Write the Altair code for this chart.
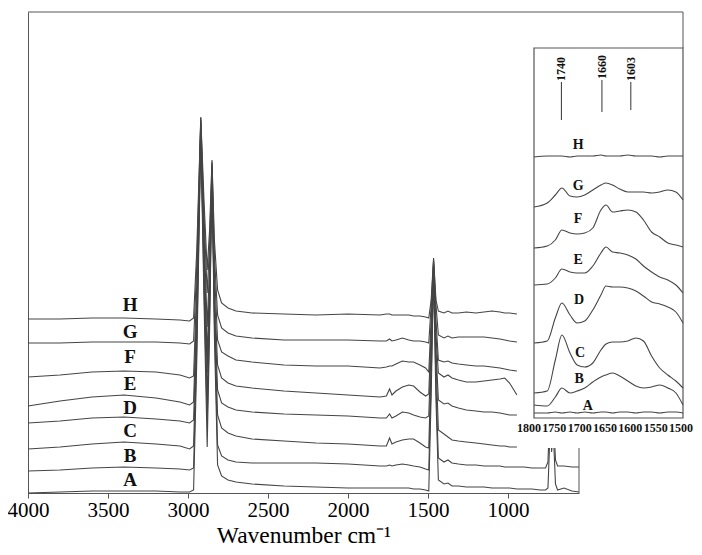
import altair as alt
import pandas as pd

# ---------------- main spectra ----------------
samples = ["A", "B", "C", "D", "E", "F", "G", "H"]

wn_main = [4000, 3800, 3600, 3400, 3200, 3050, 2990, 2965, 2945, 2920,
           2900, 2880, 2865, 2850, 2835, 2815, 2790, 2750, 2700, 2600,
           2400, 2200, 2000, 1800, 1760, 1740, 1725, 1700, 1660, 1620,
           1590, 1550, 1515, 1495, 1480, 1465, 1450, 1435, 1400, 1375,
           1350, 1310, 1260, 1200, 1150, 1100, 1050, 1020, 990, 944,
           900, 850, 800, 765, 750, 740, 733, 727, 720, 712,
           703, 690, 650, 600, 556]

abs_H = [1.74, 1.74, 1.75, 1.75, 1.74, 1.73, 1.72, 1.75, 2.43, 3.76,
         2.93, 2.23, 2.63, 3.33, 2.53, 2.03, 1.90, 1.85, 1.82, 1.80,
         1.79, 1.78, 1.79, 1.78, 1.79, 1.79, 1.78, 1.78, 1.78, 1.78,
         1.77, 1.77, 1.76, 1.75, 1.93, 2.35, 1.93, 1.82, 1.80, 1.82,
         1.80, 1.80, 1.81, 1.80, 1.81, 1.82, 1.81, 1.80, 1.80, 1.79]
abs_G = [1.50, 1.50, 1.51, 1.51, 1.51, 1.50, 1.49, 1.52, 2.28, 3.75,
         2.78, 2.00, 2.48, 3.31, 2.38, 1.78, 1.65, 1.60, 1.57, 1.55,
         1.53, 1.53, 1.53, 1.52, 1.52, 1.54, 1.52, 1.53, 1.55, 1.53,
         1.52, 1.52, 1.51, 1.50, 1.88, 2.33, 1.88, 1.58, 1.55, 1.57,
         1.55, 1.56, 1.56, 1.56, 1.56, 1.55, 1.54, 1.53, 1.52, 1.51]
abs_F = [1.16, 1.18, 1.21, 1.22, 1.21, 1.18, 1.15, 1.17, 2.08, 3.73,
         2.63, 1.66, 2.28, 3.29, 2.23, 1.53, 1.41, 1.37, 1.33, 1.31,
         1.28, 1.27, 1.27, 1.25, 1.26, 1.27, 1.27, 1.29, 1.32, 1.31,
         1.31, 1.28, 1.25, 1.21, 1.73, 2.31, 1.73, 1.33, 1.31, 1.32,
         1.30, 1.29, 1.28, 1.27, 1.27, 1.26, 1.25, 1.24, 1.23, 1.22]
abs_E = [0.87, 0.92, 0.96, 0.98, 0.95, 0.91, 0.88, 0.91, 1.93, 3.71,
         2.48, 1.37, 2.13, 3.27, 2.03, 1.28, 1.15, 1.10, 1.07, 1.05,
         1.02, 1.00, 0.98, 0.96, 0.97, 1.04, 0.98, 1.02, 1.06, 1.08,
         1.07, 1.01, 0.97, 0.99, 1.63, 2.29, 1.58, 1.20, 1.16, 1.18,
         1.15, 1.13, 1.11, 1.11, 1.12, 1.13, 1.14, 1.15, 1.10, 0.98]
abs_D = [0.70, 0.72, 0.75, 0.76, 0.74, 0.72, 0.70, 0.73, 1.78, 3.68,
         2.38, 1.20, 2.03, 3.25, 1.93, 1.03, 0.90, 0.86, 0.83, 0.81,
         0.79, 0.78, 0.77, 0.75, 0.75, 0.79, 0.75, 0.77, 0.81, 0.80,
         0.78, 0.76, 0.75, 0.77, 1.48, 2.27, 1.43, 0.93, 0.89, 0.90,
         0.87, 0.85, 0.83, 0.82, 0.81, 0.81, 0.80, 0.79, 0.78, 0.78]
abs_C = [0.44, 0.46, 0.49, 0.51, 0.49, 0.47, 0.44, 0.47, 1.63, 3.65,
         2.23, 0.94, 1.88, 3.23, 1.83, 0.78, 0.65, 0.60, 0.57, 0.54,
         0.52, 0.50, 0.49, 0.47, 0.47, 0.55, 0.49, 0.51, 0.53, 0.54,
         0.54, 0.50, 0.46, 0.45, 1.33, 2.25, 1.33, 0.63, 0.59, 0.56,
         0.53, 0.52, 0.51, 0.50, 0.49, 0.48, 0.47, 0.47, 0.46, 0.46]
abs_B = [0.22, 0.23, 0.25, 0.26, 0.25, 0.24, 0.23, 0.25, 1.48, 3.62,
         2.08, 0.72, 1.73, 3.21, 1.73, 0.48, 0.37, 0.33, 0.31, 0.30,
         0.30, 0.30, 0.29, 0.27, 0.27, 0.28, 0.27, 0.28, 0.29, 0.28,
         0.27, 0.26, 0.24, 0.23, 1.13, 2.23, 1.08, 0.35, 0.31, 0.33,
         0.30, 0.29, 0.28, 0.28, 0.27, 0.27, 0.27, 0.26, 0.26, 0.26,
         0.26, 0.25, 0.25, 0.25, 0.31, 0.73, 1.13, 0.41, 1.08, 0.63,
         0.33, 0.27, 0.27, 0.26, 0.26]
abs_A = [0.00, 0.01, 0.02, 0.02, 0.02, 0.01, 0.01, 0.03, 1.33, 3.58,
         1.93, 0.46, 1.63, 3.18, 1.58, 0.28, 0.17, 0.13, 0.11, 0.09,
         0.07, 0.06, 0.05, 0.05, 0.05, 0.05, 0.05, 0.05, 0.05, 0.05,
         0.04, 0.04, 0.03, 0.02, 0.98, 2.21, 0.93, 0.13, 0.09, 0.10,
         0.07, 0.07, 0.06, 0.06, 0.06, 0.05, 0.05, 0.05, 0.05, 0.04,
         0.04, 0.04, 0.03, 0.03, 0.05, 0.48, 0.93, 0.43, 0.93, 0.43,
         0.09, 0.03, 0.05, 0.02, 0.01]

main_series = {"A": abs_A, "B": abs_B, "C": abs_C, "D": abs_D,
               "E": abs_E, "F": abs_F, "G": abs_G, "H": abs_H}

label_wn = 3362
label_y = {"H": 1.88, "G": 1.61, "F": 1.36, "E": 1.09,
           "D": 0.85, "C": 0.62, "B": 0.37, "A": 0.13}

main_ticks = [4000, 3500, 3000, 2500, 2000, 1500, 1000]

# ---------------- inset spectra ----------------
wn_inset = [1794, 1768, 1752, 1739, 1723, 1709, 1694, 1678, 1662, 1652,
            1639, 1625, 1609, 1593, 1578, 1562, 1546, 1530, 1514, 1500]

in_H = [2.61, 2.62, 2.62, 2.62, 2.61, 2.62, 2.62, 2.62, 2.63, 2.62,
        2.62, 2.62, 2.63, 2.62, 2.62, 2.62, 2.61, 2.62, 2.62, 2.62]
in_G = [2.11, 2.15, 2.23, 2.30, 2.22, 2.21, 2.23, 2.28, 2.33, 2.35,
        2.33, 2.29, 2.26, 2.26, 2.26, 2.25, 2.26, 2.28, 2.26, 2.18]
in_F = [1.70, 1.72, 1.78, 1.88, 1.85, 1.84, 1.85, 1.90, 2.08, 2.13,
        2.06, 2.07, 2.08, 2.06, 1.98, 1.86, 1.81, 1.75, 1.73, 1.71]
in_E = [1.33, 1.34, 1.40, 1.49, 1.46, 1.45, 1.45, 1.52, 1.65, 1.71,
        1.66, 1.65, 1.63, 1.59, 1.52, 1.46, 1.41, 1.38, 1.33, 1.25]
in_D = [0.75, 0.77, 1.00, 1.15, 1.03, 0.95, 0.97, 1.08, 1.23, 1.32,
        1.31, 1.31, 1.30, 1.27, 1.22, 1.16, 1.14, 1.11, 1.06, 0.95]
in_C = [0.25, 0.27, 0.58, 0.83, 0.65, 0.53, 0.51, 0.55, 0.68, 0.74,
        0.76, 0.76, 0.77, 0.80, 0.77, 0.62, 0.50, 0.43, 0.37, 0.30]
in_B = [0.13, 0.12, 0.21, 0.30, 0.25, 0.27, 0.30, 0.36, 0.41, 0.43,
        0.45, 0.42, 0.37, 0.32, 0.30, 0.31, 0.33, 0.30, 0.25, 0.13]
in_A = [0.05, 0.05, 0.06, 0.05, 0.06, 0.05, 0.06, 0.05, 0.06, 0.06,
        0.05, 0.06, 0.06, 0.05, 0.06, 0.06, 0.05, 0.06, 0.06, 0.05]

inset_series = {"A": in_A, "B": in_B, "C": in_C, "D": in_D,
                "E": in_E, "F": in_F, "G": in_G, "H": in_H}

inset_label_wn = {"H": 1707, "G": 1707, "F": 1707, "E": 1707,
                  "D": 1705, "C": 1703, "B": 1705, "A": 1688}
inset_label_y = {"H": 2.73, "G": 2.32, "F": 1.99, "E": 1.58,
                 "D": 1.18, "C": 0.65, "B": 0.39, "A": 0.12}

inset_ticks = [1800, 1750, 1700, 1650, 1600, 1550, 1500]
inset_tick_y = -0.10

marker_wn = [1740, 1660, 1603]
marker_top = [3.36, 3.38, 3.36]
marker_bottom = [2.98, 3.06, 3.08]

# ---------------- tables ----------------
main_df = pd.DataFrame([
    {"sample": s, "wn": w, "a": v}
    for s in samples for w, v in zip(wn_main, main_series[s])
])
main_lab = pd.DataFrame([{"sample": s, "wn": label_wn, "a": label_y[s]} for s in samples])

inset_df = pd.DataFrame([
    {"sample": s, "wn": w, "a": v}
    for s in samples for w, v in zip(wn_inset, inset_series[s])
])
inset_lab = pd.DataFrame([{"sample": s, "wn": inset_label_wn[s], "a": inset_label_y[s]} for s in samples])
tick_df = pd.DataFrame({"wn": inset_ticks, "a": [inset_tick_y] * len(inset_ticks),
                        "t": [str(t) for t in inset_ticks]})
mark_df = pd.DataFrame({"wn": marker_wn, "top": marker_top, "bottom": marker_bottom,
                        "t": [str(m) for m in marker_wn]})
one = pd.DataFrame({"k": [0]})

SERIF = "Liberation Serif"
FRAME = "#555555"
LINE = "#454545"

# ---------------- main layer ----------------
xm = alt.X("wn:Q", scale=alt.Scale(domain=[4000, 556], nice=False, zero=False),
           axis=alt.Axis(values=main_ticks, format="d", grid=False, tickSize=5,
                         tickColor=FRAME, domainColor=FRAME, labelFont=SERIF,
                         labelFontSize=21, labelColor="#000", labelPadding=1,
                         labelFlush=False, title="Wavenumber cm⁻¹", titleFont=SERIF,
                         titleFontSize=23.5, titleFontWeight="normal", titleColor="#000",
                         titleY=49, titleBaseline="alphabetic"))
ym = alt.Y("a:Q", scale=alt.Scale(domain=[0, 4.81], nice=False, zero=False),
           axis=alt.Axis(labels=False, ticks=False, grid=False, title=None,
                         domainColor=FRAME))

main_lines = alt.Chart(main_df).mark_line(color=LINE, strokeWidth=1.1).encode(
    x=xm, y=ym, detail="sample:N")
main_labels = alt.Chart(main_lab).mark_text(
    font=SERIF, fontSize=19, fontWeight="bold", color="#111").encode(
    x=xm, y=ym, text="sample:N")
top_rule = alt.Chart(one).mark_rule(color=FRAME, strokeWidth=1).encode(
    x=alt.value(0), x2=alt.value(655), y=alt.value(0))
right_stub = alt.Chart(one).mark_rule(color=FRAME, strokeWidth=1).encode(
    x=alt.value(655), y=alt.value(0), y2=alt.value(36))
main_right = alt.Chart(one).mark_rule(color=FRAME, strokeWidth=1).encode(
    x=alt.value(551), y=alt.value(436), y2=alt.value(481))

main_layer = alt.layer(main_lines, main_labels, top_rule, right_stub, main_right)

# ---------------- inset layer ----------------
inset_x_scale = alt.Scale(domain=[1800, 1500], range=[503, 655], nice=False, zero=False)
inset_y_scale = alt.Scale(domain=[0, 3.7], range=[406, 36], nice=False, zero=False)
xi = alt.X("wn:Q", scale=inset_x_scale, axis=None)
yi = alt.Y("a:Q", scale=inset_y_scale, axis=None)

white = alt.Chart(one).mark_rect(color="white").encode(
    x=alt.value(489), x2=alt.value(666), y=alt.value(36), y2=alt.value(436))
frame = alt.Chart(one).mark_rect(fillOpacity=0, stroke=FRAME, strokeWidth=1.2).encode(
    x=alt.value(506), x2=alt.value(655), y=alt.value(36), y2=alt.value(406))
inset_lines = alt.Chart(inset_df).mark_line(
    color=LINE, strokeWidth=1.1, interpolate="monotone").encode(
    x=xi, y=yi, detail="sample:N")
inset_labels = alt.Chart(inset_lab).mark_text(
    font=SERIF, fontSize=14, fontWeight="bold", color="#111").encode(
    x=xi, y=yi, text="sample:N")
inset_tick_labels = alt.Chart(tick_df).mark_text(
    font=SERIF, fontSize=12, fontWeight="bold", color="#111", dx=-2).encode(
    x=xi, y=yi, text="t:N")
marker_rules = alt.Chart(mark_df).mark_rule(color="#333", strokeWidth=1).encode(
    x=xi, y=alt.Y("bottom:Q", scale=inset_y_scale, axis=None), y2="top:Q")
marker_text = alt.Chart(mark_df).mark_text(
    font=SERIF, fontSize=12, fontWeight="bold", color="#111",
    angle=270, align="left", baseline="middle", dx=1).encode(
    x=xi, y=alt.Y("top:Q", scale=inset_y_scale, axis=None), text="t:N")

inset_layer = alt.layer(white, frame, inset_lines, inset_labels,
                        inset_tick_labels, marker_rules, marker_text)

chart = alt.layer(main_layer, inset_layer).resolve_scale(
    x="independent", y="independent"
).properties(
    width=551, height=481,
    autosize=alt.AutoSizeParams(type="none"),
    padding={"left": 20, "top": 4, "right": 115, "bottom": 54},
).configure_view(stroke=None).configure_axis(labelFont=SERIF, titleFont=SERIF)

chart.save("out.html", embed_options={"renderer": "svg", "actions": False})
